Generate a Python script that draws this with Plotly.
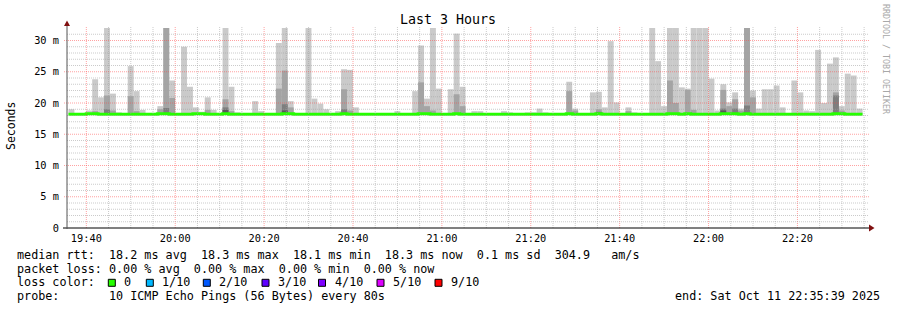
import plotly.graph_objects as go
from datetime import datetime, timedelta

# ---------------- data ----------------
TITLE = "Last 3 Hours"
T_START = datetime(2025, 10, 11, 19, 35, 39)
T_END = datetime(2025, 10, 11, 22, 35, 39)
FIRST_STEP = datetime(2025, 10, 11, 19, 36, 39)   # centre of first 80 s step
STEP_S = 80
SMOKE_FLOOR = 18.1  # ms, lowest ping (hidden under median line)
N = None

# smoke band tops (ms) per 80 s step (outer = max ping ... core = inner pings)
smoke_outer = [
    19.0, 18.4, 18.4, 18.8, 23.8, 20.9, 32.5, 21.5, 18.5, 18.4,
    25.9, 21.9, 18.9, 18.4, 18.4, 19.5, 32.5, 23.6, 18.4, 29.0,
    22.6, 19.3, 18.6, 20.9, 18.9, 18.4, 32.5, 22.6, 18.5, 18.4,
    18.4, 20.3, 18.7, 18.4, 18.4, 29.6, 32.5, 20.3, 18.4, 18.4,
    32.5, 20.7, 19.9, 19.0, 18.4, 18.7, 25.4, 25.3, 19.3, 18.4,
    18.4, 18.4, 18.4, 18.4, 18.4, 18.7, 18.4, 18.4, 21.9, 29.2,
    20.7, 32.5, 22.3, 18.4, 22.2, 31.1, 22.6, 18.4, 18.7, 18.7,
    18.4, 18.4, 18.4, 18.7, 18.5, 18.4, 18.4, 18.5, 18.5, 19.1,
    18.5, 18.4, 18.4, 18.4, 23.4, 19.1, 18.4, 18.4, 21.7, 21.8,
    19.3, 29.9, 20.1, 18.4, 19.3, 18.5, 18.4, 18.4, 32.5, 26.7,
    19.5, 32.5, 32.5, 22.5, 22.3, 32.5, 32.5, 32.5, 23.9, 18.8,
    23.0, 20.1, 21.7, 19.1, 32.5, 22.0, 19.1, 22.2, 22.2, 22.8,
    19.3, 18.4, 23.6, 21.7, 18.8, 18.7, 28.5, 20.0, 26.3, 27.3,
    19.5, 24.7, 24.4, 19.1, N,
]
smoke_mid = [
    N, N, N, N, 18.7, N, 21.2, 18.8, N, N,
    21.1, 18.7, N, N, N, 19.0, 32.5, 20.8, N, N,
    N, N, N, 18.9, N, N, 20.6, 18.7, N, N,
    N, N, N, N, N, 22.3, 25.2, 19.3, N, N,
    N, N, N, N, N, N, 22.2, 18.8, N, N,
    N, N, N, N, N, N, N, N, N, 23.3,
    19.5, 18.8, N, N, N, 21.4, 19.5, N, N, N,
    N, N, N, N, N, N, N, N, N, N,
    N, N, N, N, 21.9, 18.8, N, N, N, 19.0,
    N, N, N, N, 18.7, N, N, N, N, N,
    N, 23.6, 20.0, N, 22.1, 18.9, N, N, N, N,
    22.1, 19.5, 20.6, 18.8, 32.5, 20.9, N, N, N, N,
    N, N, N, N, N, N, N, N, N, 21.7,
    18.8, N, N, N, N,
]
smoke_dark = [
    N, N, N, N, N, N, 19.0, N, N, N,
    N, N, N, N, N, N, 19.2, N, N, N,
    N, N, N, N, N, N, 19.3, N, N, N,
    N, N, N, N, N, N, 19.8, N, N, N,
    N, N, N, N, N, N, 19.0, N, N, N,
    N, N, N, N, N, N, N, N, N, N,
    N, N, N, N, N, N, N, N, N, N,
    N, N, N, N, N, N, N, N, N, N,
    N, N, N, N, N, N, N, N, N, 18.6,
    N, N, N, N, N, N, N, N, N, N,
    N, N, N, N, N, N, N, N, N, N,
    19.1, N, 19.1, N, 19.6, N, N, N, N, N,
    N, N, N, N, N, N, N, N, N, 21.2,
    N, N, N, N, N,
]
smoke_core = [
    N, N, N, N, N, N, N, N, N, N,
    N, N, N, N, N, N, N, N, N, N,
    N, N, N, N, N, N, 18.9, N, N, N,
    N, N, N, N, N, N, 18.8, N, N, N,
] + [N] * 70 + [18.8] + [N] * 24

median_rtt = [
    18.2, 18.2, 18.2, 18.3, 18.3, 18.2, 18.2, 18.2, 18.2, 18.2,
    18.2, 18.2, 18.2, 18.2, 18.2, 18.3, 18.3, 18.2, 18.2, 18.2,
    18.2, 18.3, 18.3, 18.2, 18.2, 18.2, 18.3, 18.2, 18.2, 18.2,
    18.2, 18.2, 18.2, 18.2, 18.2, 18.2, 18.3, 18.3, 18.2, 18.2,
    18.2, 18.2, 18.2, 18.2, 18.2, 18.2, 18.3, 18.2, 18.2, 18.2,
    18.2, 18.2, 18.2, 18.2, 18.2, 18.2, 18.2, 18.2, 18.2, 18.3,
    18.3, 18.2, 18.2, 18.2, 18.2, 18.3, 18.2, 18.2, 18.2, 18.2,
    18.2, 18.2, 18.2, 18.2, 18.2, 18.2, 18.2, 18.2, 18.2, 18.2,
    18.2, 18.2, 18.2, 18.2, 18.3, 18.2, 18.2, 18.2, 18.2, 18.3,
    18.2, 18.2, 18.2, 18.2, 18.2, 18.2, 18.2, 18.2, 18.2, 18.2,
    18.2, 18.3, 18.3, 18.2, 18.3, 18.2, 18.2, 18.2, 18.2, 18.2,
    18.3, 18.3, 18.3, 18.2, 18.3, 18.2, 18.2, 18.2, 18.2, 18.2,
    18.2, 18.2, 18.2, 18.2, 18.2, 18.2, 18.2, 18.2, 18.2, 18.3,
    18.3, 18.2, 18.2, 18.2,
]

y_tick_values = [0, 5, 10, 15, 20, 25, 30]
y_tick_labels = ["0", "5 m", "10 m", "15 m", "20 m", "25 m", "30 m"]
x_tick_labels = ["19:40", "20:00", "20:20", "20:40", "21:00", "21:20", "21:40", "22:00", "22:20"]
FIRST_TICK = datetime(2025, 10, 11, 19, 40)

loss_labels = ["0", "1/10", "2/10", "3/10", "4/10", "5/10", "9/10"]
loss_colors = ["#26ff00", "#00b8ff", "#0059ff", "#5e00ff", "#7e00ff", "#dd00ff", "#ff0000"]

legend_median = "median rtt:  18.2 ms avg  18.3 ms max  18.1 ms min  18.3 ms now  0.1 ms sd  304.9   am/s"
legend_loss = "packet loss: 0.00 % avg  0.00 % max  0.00 % min  0.00 % now"
legend_loss_color = "loss color:"
legend_probe = "probe:       10 ICMP Echo Pings (56 Bytes) every 80s"
legend_end = "end: Sat Oct 11 22:35:39 2025"
side_text = "RRDTOOL / TOBI OETIKER"
y_title = "Seconds"

# ---------------- layout helpers ----------------
W, H = 897, 310
PL, PR, PT, PB = 67, 867, 28, 228
MONO = "DejaVu Sans Mono"
LEG_SIZE = 11.75


def xp(px):
    return (px - PL) / (PR - PL)


def yp(py):
    return (PB - py) / (PB - PT)


fig = go.Figure()

smoke_layers = [(smoke_outer, "#cacaca"), (smoke_mid, "#a4a4a4"),
                (smoke_dark, "#7e7e7e"), (smoke_core, "#585858")]
for tops, color in smoke_layers:
    xs, hs, bs = [], [], []
    for k, v in enumerate(tops):
        if v is None:
            continue
        xs.append(FIRST_STEP + timedelta(seconds=STEP_S * k))
        hs.append(v - SMOKE_FLOOR)
        bs.append(SMOKE_FLOOR)
    fig.add_trace(go.Bar(x=xs, y=hs, base=bs, width=STEP_S * 1000,
                         marker=dict(color=color, line=dict(width=0)),
                         hoverinfo="skip", showlegend=False))

mx = [FIRST_STEP + timedelta(seconds=STEP_S * k - STEP_S / 2) for k in range(len(median_rtt) + 1)]
my = median_rtt + [median_rtt[-1]]
fig.add_trace(go.Scatter(x=mx, y=my, mode="lines", line=dict(color=loss_colors[0], width=3, shape="hv"),
                         hoverinfo="skip", showlegend=False))

GRID_MINOR = "rgba(160,160,160,0.55)"
GRID_MAJOR = "rgba(255,70,70,0.5)"
shapes = []
# vertical grid every 5 minutes, major every 20 minutes
t = FIRST_TICK
while t <= T_END:
    major = (t.minute % 20 == 0)
    shapes.append(dict(type="line", xref="x", yref="paper", x0=t, x1=t, y0=0, y1=yp(26),
                       line=dict(color=GRID_MAJOR if major else GRID_MINOR, width=1, dash="1px,1px"),
                       layer="above"))
    t += timedelta(minutes=5)
# horizontal grid every 1 ms, major every 5 ms
for v in range(1, 32):
    major = (v % 5 == 0)
    shapes.append(dict(type="line", xref="paper", yref="y", x0=xp(64) if major else 0, x1=xp(869),
                       y0=v, y1=v,
                       line=dict(color=GRID_MAJOR if major else GRID_MINOR, width=1, dash="1px,1px"),
                       layer="above"))
# axes and arrows
shapes.append(dict(type="line", xref="paper", yref="paper", x0=xp(63), x1=xp(870), y0=0, y1=0,
                   line=dict(color="#000000", width=1), layer="above"))
shapes.append(dict(type="line", xref="paper", yref="paper", x0=0, x1=0, y0=yp(229), y1=yp(24),
                   line=dict(color="#555555", width=1), layer="above"))
shapes.append(dict(type="path", xref="paper", yref="paper",
                   path=f"M {xp(64)},{yp(26)} L {xp(70)},{yp(26)} L {xp(67)},{yp(20.5)} Z",
                   fillcolor="#801010", line=dict(width=0), layer="above"))
shapes.append(dict(type="path", xref="paper", yref="paper",
                   path=f"M {xp(869)},{yp(224.5)} L {xp(869)},{yp(231.5)} L {xp(874.5)},{yp(228)} Z",
                   fillcolor="#801010", line=dict(width=0), layer="above"))

annotations = []


def text_at(txt, px, py, size=LEG_SIZE, color="#000000", anchor="left", angle=0):
    annotations.append(dict(text=txt.replace(" ", "\u00a0"), xref="paper", yref="paper",
                            x=xp(px), y=yp(py), xanchor=anchor, yanchor="middle",
                            showarrow=False, borderpad=0, textangle=angle,
                            font=dict(family=MONO, size=size, color=color)))


text_at(TITLE, 448, 20, size=13.3, anchor="center")
text_at(y_title, 11, 126, size=11.5, anchor="center", angle=-90)
text_at(side_text, 886, 59, size=8.3, color="#a8a8a8", anchor="center", angle=90)

text_at(legend_median, 16, 255)
text_at(legend_loss, 16, 268.6)
text_at(legend_loss_color, 16, 282.2)
box_x = [108.3, 146.3, 203.3, 262, 318.5, 377, 435]
for lab, col, bx in zip(loss_labels, loss_colors, box_x):
    shapes.append(dict(type="rect", xref="paper", yref="paper", x0=xp(bx), x1=xp(bx + 7),
                       y0=yp(286.3), y1=yp(279.3), fillcolor=col,
                       line=dict(color="#000000", width=1), layer="above"))
    text_at(lab, bx + 15, 282.2)
text_at(legend_probe, 16, 295.8)
text_at(legend_end, 881, 295.8, anchor="right")

tick_font = dict(family=MONO, size=10.3, color="#000000")
fig.update_layout(
    width=W, height=H, autosize=False,
    margin=dict(l=PL, r=W - PR, t=PT, b=H - PB, pad=0),
    paper_bgcolor="#ffffff", plot_bgcolor="#ffffff",
    barmode="overlay", showlegend=False,
    shapes=shapes, annotations=annotations,
    xaxis=dict(type="date", range=[T_START, T_END],
               tickvals=[FIRST_TICK + timedelta(minutes=20 * i) for i in range(len(x_tick_labels))],
               ticktext=x_tick_labels, showgrid=False, zeroline=False, showline=False,
               ticks="outside", ticklen=1, tickcolor="rgba(0,0,0,0)", tickfont=tick_font),
    yaxis=dict(range=[0, 32], tickvals=y_tick_values, ticktext=y_tick_labels,
               showgrid=False, zeroline=False, showline=False,
               ticks="outside", ticklen=5, tickcolor="rgba(0,0,0,0)", tickfont=tick_font),
)

fig.write_html("out.html")
